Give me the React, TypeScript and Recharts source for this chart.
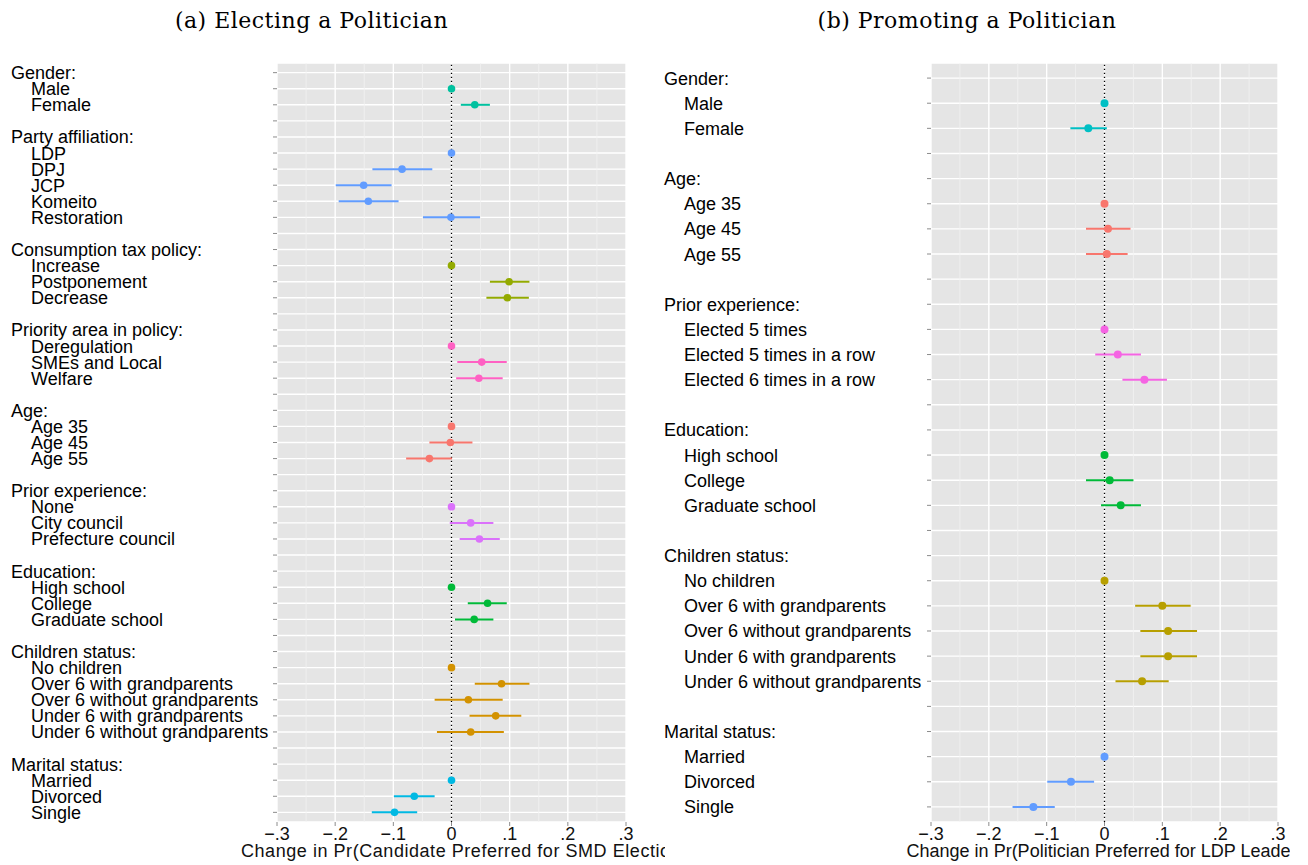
import React from 'react'
import { ScatterChart, Scatter, XAxis, YAxis, CartesianGrid, ErrorBar, ReferenceLine, Label } from 'recharts'

const xTicks = [-0.3, -0.2, -0.1, 0, 0.1, 0.2, 0.3]
const xTickLabels = ['\u2212.3', '\u2212.2', '\u2212.1', '0', '.1', '.2', '.3']
const xMinorTicks = [-0.25, -0.15, -0.05, 0.05, 0.15, 0.25]

// (a) electing a politician: SMD candidate preference
const electGroups = [
  'Gender:',
  'Party affiliation:',
  'Consumption tax policy:',
  'Priority area in policy:',
  'Age:',
  'Prior experience:',
  'Education:',
  'Children status:',
  'Marital status:',
]
const electLevels = [
  ['Male', 'Female'],
  ['LDP', 'DPJ', 'JCP', 'Komeito', 'Restoration'],
  ['Increase', 'Postponement', 'Decrease'],
  ['Deregulation', 'SMEs and Local', 'Welfare'],
  ['Age 35', 'Age 45', 'Age 55'],
  ['None', 'City council', 'Prefecture council'],
  ['High school', 'College', 'Graduate school'],
  ['No children', 'Over 6 with grandparents', 'Over 6 without grandparents', 'Under 6 with grandparents', 'Under 6 without grandparents'],
  ['Married', 'Divorced', 'Single'],
]
const electEst = [
  [0, 0.04],
  [0, -0.085, -0.151, -0.143, -0.001],
  [0, 0.099, 0.096],
  [0, 0.052, 0.047],
  [0, -0.002, -0.038],
  [0, 0.033, 0.048],
  [0, 0.062, 0.039],
  [0, 0.086, 0.029, 0.076, 0.033],
  [0, -0.064, -0.098],
]
const electLow = [
  [0, 0.016],
  [0, -0.136, -0.199, -0.194, -0.049],
  [0, 0.066, 0.06],
  [0, 0.01, 0.008],
  [0, -0.038, -0.078],
  [0, -0.003, 0.014],
  [0, 0.028, 0.006],
  [0, 0.04, -0.029, 0.031, -0.025],
  [0, -0.099, -0.137],
]
const electHigh = [
  [0, 0.066],
  [0, -0.033, -0.103, -0.091, 0.049],
  [0, 0.134, 0.133],
  [0, 0.095, 0.088],
  [0, 0.036, 0.001],
  [0, 0.072, 0.083],
  [0, 0.095, 0.072],
  [0, 0.134, 0.088, 0.12, 0.09],
  [0, -0.029, -0.059],
]
const electColors = ['#00C19F', '#619CFF', '#93AA00', '#FF61C3', '#F8766D', '#DB72FB', '#00BA38', '#D39200', '#00B9E3']

// (b) promoting a politician: LDP leader preference
const promoteGroups = ['Gender:', 'Age:', 'Prior experience:', 'Education:', 'Children status:', 'Marital status:']
const promoteLevels = [
  ['Male', 'Female'],
  ['Age 35', 'Age 45', 'Age 55'],
  ['Elected 5 times', 'Elected 5 times in a row', 'Elected 6 times in a row'],
  ['High school', 'College', 'Graduate school'],
  ['No children', 'Over 6 with grandparents', 'Over 6 without grandparents', 'Under 6 with grandparents', 'Under 6 without grandparents'],
  ['Married', 'Divorced', 'Single'],
]
const promoteEst = [
  [0, -0.028],
  [0, 0.006, 0.004],
  [0, 0.023, 0.069],
  [0, 0.009, 0.028],
  [0, 0.1, 0.11, 0.11, 0.065],
  [0, -0.058, -0.123],
]
const promoteLow = [
  [0, -0.059],
  [0, -0.032, -0.032],
  [0, -0.016, 0.031],
  [0, -0.032, -0.006],
  [0, 0.053, 0.062, 0.062, 0.019],
  [0, -0.099, -0.159],
]
const promoteHigh = [
  [0, 0.004],
  [0, 0.045, 0.04],
  [0, 0.063, 0.108],
  [0, 0.05, 0.063],
  [0, 0.149, 0.16, 0.16, 0.111],
  [0, -0.018, -0.086],
]
const promoteColors = ['#00BFC4', '#F8766D', '#F564E3', '#00BA38', '#B79F00', '#619CFF']

type Row = { row: number; label: string; header: boolean }
type Point = { row: number; est: number; err: [number, number] }

// lay out header / level / spacer rows and one point list per group
function buildPanel(groups: string[], levels: string[][], est: number[][], low: number[][], high: number[][]) {
  const rows: Row[] = []
  const series: Point[][] = []
  groups.forEach((g, gi) => {
    if (gi > 0) rows.push({ row: rows.length + 1, label: '', header: false })
    rows.push({ row: rows.length + 1, label: g, header: true })
    series.push(
      levels[gi].map((lv, li) => {
        rows.push({ row: rows.length + 1, label: lv, header: false })
        const e = est[gi][li]
        return { row: rows.length, est: e, err: [e - low[gi][li], high[gi][li] - e] as [number, number] }
      })
    )
  })
  return { rows, series }
}

const electPanel = buildPanel(electGroups, electLevels, electEst, electLow, electHigh)
const promotePanel = buildPanel(promoteGroups, promoteLevels, promoteEst, promoteLow, promoteHigh)

const FONT = '"Liberation Sans", Arial, Helvetica, sans-serif'

interface PanelProps {
  panel: { rows: Row[]; series: Point[][] }
  colors: string[]
  left: number
  width: number
  axisWidth: number
  rightMargin: number
  headerX: number
  itemX: number
  dotR: number
  xTitle: string
  titleSpacing: number
  titleStart?: number
}

const Panel = ({ panel, colors, left, width, axisWidth, rightMargin, headerX, itemX, dotR, xTitle, titleSpacing, titleStart }: PanelProps) => {
  const { rows, series } = panel
  const n = rows.length

  const renderYTick = (props: any) => {
    const r = rows[props.payload.value - 1]
    if (!r || !r.label) return <g />
    return (
      <text x={r.header ? headerX : itemX} y={props.y} dy={6.5} fontSize={18} fontFamily={FONT} fill="#000">
        {r.label}
      </text>
    )
  }

  // axis title under the panel; whatever runs past the svg edge gets clipped
  const renderXTitle = (props: any) => {
    const vb = props.viewBox || {}
    const cx = (vb.x ?? axisWidth) + (vb.width ?? width - axisWidth - rightMargin) / 2
    const anchored = titleStart !== undefined
    return (
      <text
        x={anchored ? titleStart : cx}
        y={857}
        textAnchor={anchored ? 'start' : 'middle'}
        fontSize={18}
        letterSpacing={titleSpacing}
        fontFamily={FONT}
        fill="#111"
      >
        {xTitle}
      </text>
    )
  }

  return (
    <div style={{ position: 'absolute', left, top: 0 }}>
      <ScatterChart width={width} height={865} margin={{ top: 63, right: rightMargin, bottom: 0, left: 0 }}>
        <CartesianGrid fill="#E5E5E5" stroke="#FFFFFF" strokeWidth={1.4} />
        {xMinorTicks.map((v) => (
          <ReferenceLine key={v} x={v} stroke="#F2F2F2" strokeWidth={0.8} />
        ))}
        <XAxis
          type="number"
          dataKey="est"
          domain={[-0.3, 0.3]}
          allowDataOverflow
          ticks={xTicks}
          interval={0}
          tickFormatter={(_v: number, i: number) => xTickLabels[i]}
          tickSize={4}
          tickMargin={1}
          axisLine={false}
          tickLine={{ stroke: '#8C8C8C' }}
          tick={{ fontSize: 18, fill: '#111', fontFamily: FONT }}
          height={43}
        >
          <Label content={renderXTitle} />
        </XAxis>
        <YAxis
          type="number"
          dataKey="row"
          domain={[0.4, n + 0.6]}
          reversed
          allowDataOverflow
          ticks={rows.map((r) => r.row)}
          interval={0}
          width={axisWidth}
          tickSize={4}
          axisLine={false}
          tickLine={{ stroke: '#8C8C8C' }}
          tick={renderYTick}
        />
        <ReferenceLine x={0} stroke="#000" strokeWidth={1.3} strokeDasharray="1.3 2.7" />
        {series.map((pts, i) => (
          <Scatter
            key={i}
            data={pts}
            fill={colors[i]}
            isAnimationActive={false}
            shape={(p: any) => <circle cx={p.cx} cy={p.cy} r={dotR} fill={colors[i]} />}
          >
            <ErrorBar dataKey="err" direction="x" width={0} stroke={colors[i]} strokeWidth={2} isAnimationActive={false} />
          </Scatter>
        ))}
      </ScatterChart>
    </div>
  )
}

export default function App() {
  return (
    <div style={{ position: 'absolute', left: 0, top: 0, width: 1308, height: 865, background: '#fff', fontFamily: FONT }}>
      <Panel
        panel={electPanel}
        colors={electColors}
        left={0}
        width={665}
        axisWidth={277}
        rightMargin={39}
        headerX={11}
        itemX={31}
        dotR={3.8}
        xTitle="Change in Pr(Candidate Preferred for SMD Election)"
        titleSpacing={0.55}
        titleStart={241}
      />
      <Panel
        panel={promotePanel}
        colors={promoteColors}
        left={646}
        width={644}
        axisWidth={285}
        rightMargin={12}
        headerX={18}
        itemX={38}
        dotR={4}
        xTitle="Change in Pr(Politician Preferred for LDP Leader)"
        titleSpacing={0}
      />
      <svg width={1308} height={40} style={{ position: 'absolute', left: 0, top: 0 }}>
        <text x={311.5} y={28} textAnchor="middle" fontFamily='"DejaVu Serif", "Liberation Serif", serif' fontSize={22} letterSpacing={0.5} fill="#000">
          (a) Electing a Politician
        </text>
        <text x={967} y={28} textAnchor="middle" fontFamily='"DejaVu Serif", "Liberation Serif", serif' fontSize={22} letterSpacing={0.5} fill="#000">
          (b) Promoting a Politician
        </text>
      </svg>
    </div>
  )
}
